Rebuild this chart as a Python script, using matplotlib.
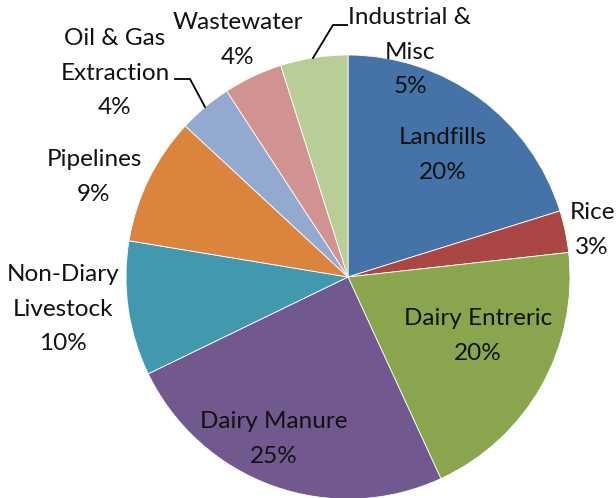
import matplotlib
matplotlib.use('Agg')
import matplotlib.pyplot as plt

# data (clockwise from 12 o'clock)
sources = ['Landfills', 'Rice', 'Dairy Entreric', 'Dairy Manure', 'Non-Diary\nLivestock',
           'Pipelines', 'Oil & Gas\nExtraction', 'Wastewater', 'Industrial &\nMisc']
shares = [20.2, 3.05, 19.9, 24.7, 9.8, 9.3, 3.9, 4.3, 4.9]
pct_labels = ['20%', '3%', '20%', '25%', '10%', '9%', '4%', '4%', '5%']

colors = ['#4572A7', '#AA4643', '#89A54E', '#71588F', '#4198AF',
          '#DB843D', '#93A9CF', '#D19392', '#B9CD96']

W, H = 616, 498
# label block centres in pixel coords (top-left origin)
label_pos = [(443, 155), (592, 230), (478, 336), (274, 439), (63, 309),
             (94, 177), (115, 73), (238, 40), (410, 52)]

plt.rcParams['font.family'] = ['Lato', 'DejaVu Sans']

fig = plt.figure(figsize=(W / 100, H / 100), dpi=100)
ax = fig.add_axes([0, 0, 1, 1])

ax.pie(shares, colors=colors, startangle=90, counterclock=False,
       center=(348, H - 277), radius=222,
       wedgeprops=dict(edgecolor='white', linewidth=0.6))

ax.set_xlim(0, W)
ax.set_ylim(0, H)
ax.set_aspect('equal')
ax.axis('off')

for name, pct, (x, y) in zip(sources, pct_labels, label_pos):
    ax.text(x, H - y, name + '\n' + pct, ha='center', va='center',
            fontsize=17.5, color='#111111', linespacing=1.78)

# leader lines
ax.plot([175, 190, 205], [H - 79, H - 79, H - 107], color='black', lw=1.3)
ax.plot([347, 333, 313], [H - 25, H - 25, H - 58], color='black', lw=1.3)

fig.savefig('out.png', dpi=100)
